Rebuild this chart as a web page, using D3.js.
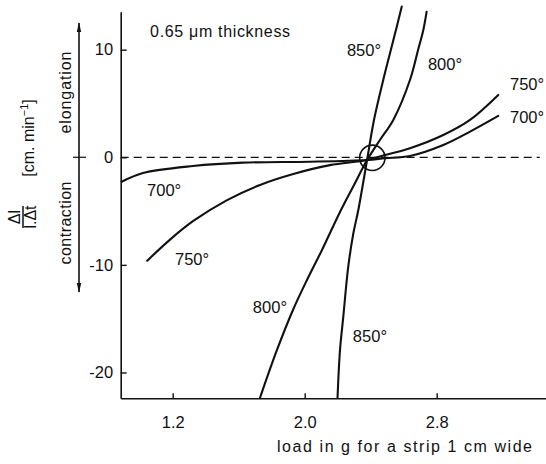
<!DOCTYPE html>
<html>
<head>
<meta charset="utf-8">
<script src="https://cdn.jsdelivr.net/npm/d3@7"></script>
<style>
  html, body { margin: 0; padding: 0; background: #fff; }
  svg { display: block; }
  text { font-family: "Liberation Sans", Arial, sans-serif; fill: #111; }
</style>
</head>
<body>
<svg id="chart" width="546" height="464"></svg>
<script>
// ---- data ----
const xTicks = [1.2, 2.0, 2.8];
const xTickLabels = ["1.2", "2.0", "2.8"];
const yTicks = [10, 0, -10, -20];
const yTickLabels = ["10", "0", "-10", "-20"];

const x700 = [0.891, 1.020, 1.323, 1.626, 2.032, 2.378, 2.487, 2.638, 2.840, 3.002, 3.173];
const y700 = [-2.27, -1.46, -0.81, -0.50, -0.41, -0.25, -0.09, 0.12, 1.14, 2.38, 3.84];

const x750 = [1.046, 1.184, 1.325, 1.527, 1.729, 1.931, 2.153, 2.378, 2.487, 2.638, 2.840, 3.002, 3.173];
const y750 = [-9.61, -7.65, -5.92, -4.00, -2.57, -1.55, -0.73, -0.25, 0.21, 0.84, 2.07, 3.47, 5.79];

const x800 = [1.729, 1.832, 1.929, 2.014, 2.105, 2.220, 2.299, 2.378, 2.456, 2.537, 2.638, 2.687, 2.719, 2.739];
const y800 = [-22.37, -17.91, -14.19, -11.40, -8.61, -4.90, -2.57, -0.25, 1.61, 3.47, 7.18, 9.97, 11.83, 13.53];

const x850 = [2.199, 2.214, 2.234, 2.264, 2.295, 2.325, 2.378, 2.420, 2.476, 2.517, 2.558, 2.588];
const y850 = [-22.37, -17.91, -14.81, -10.17, -7.06, -4.90, -0.25, 3.47, 7.18, 9.67, 12.14, 14.0];

const labelText = ["700°", "750°", "800°", "850°", "850°", "800°", "750°", "700°"];
const labelX = [1.045, 1.214, 1.686, 2.292, 2.256, 2.747, 3.244, 3.244];
const labelY = [-3.61, -10.0, -14.47, -17.17, 9.41, 8.11, 6.26, 3.19];

const circleCenter = [2.41, -0.05];
const circleRadius = 0.077; // in x-data units

const noteText = "0.65 μm thickness";
const xAxisTitle = "load in g for a strip 1 cm wide";

// ---- scales ----
const svg = d3.select("#chart");
const x = d3.scaleLinear().domain([0.885, 3.46]).range([120.7, 545.6]);
const y = d3.scaleLinear().domain([-22.4, 13.53]).range([398.3, 11.7]);

// ---- axes ----
const yAxis = d3.axisLeft(y).tickValues(yTicks)
  .tickFormat((d, i) => yTickLabels[i]).tickSizeInner(-6).tickSizeOuter(0).tickPadding(7.5);
const gy = svg.append("g").attr("transform", `translate(${x.range()[0]},0)`).call(yAxis);
gy.select(".domain").attr("stroke", "#111").attr("stroke-width", 1.6);
gy.selectAll(".tick line").attr("stroke", "#111").attr("stroke-width", 1.4);
gy.selectAll(".tick text").attr("font-size", 16.5).attr("fill", "#111")
  .attr("font-family", "Liberation Sans, Arial, sans-serif");

const xAxis = d3.axisBottom(x).tickValues(xTicks)
  .tickFormat((d, i) => xTickLabels[i]).tickSizeInner(-5).tickSizeOuter(0).tickPadding(17.5);
const gx = svg.append("g").attr("transform", `translate(0,${y.range()[0]})`).call(xAxis);
gx.select(".domain").attr("stroke", "#111").attr("stroke-width", 1.6);
gx.selectAll(".tick line").attr("stroke", "#111").attr("stroke-width", 1.4);
gx.selectAll(".tick text").attr("font-size", 16.5).attr("fill", "#111")
  .attr("font-family", "Liberation Sans, Arial, sans-serif");

// dashed zero line
svg.append("line")
  .attr("x1", x(0.885)).attr("x2", x(3.425))
  .attr("y1", y(0)).attr("y2", y(0))
  .attr("stroke", "#111").attr("stroke-width", 1.2)
  .attr("stroke-dasharray", "8,5");

// ---- curves ----
const line = d3.line().x(d => x(d[0])).y(d => y(d[1])).curve(d3.curveCatmullRom.alpha(0.5));
const series = [[x700, y700], [x750, y750], [x800, y800], [x850, y850]];
series.forEach(([xs, ys]) => {
  svg.append("path")
    .datum(xs.map((v, i) => [v, ys[i]]))
    .attr("d", line)
    .attr("fill", "none")
    .attr("stroke", "#111")
    .attr("stroke-width", 2.1)
    .attr("stroke-linecap", "round");
});

// circle at convergence point
svg.append("circle")
  .attr("cx", x(circleCenter[0])).attr("cy", y(circleCenter[1]))
  .attr("r", x(circleCenter[0] + circleRadius) - x(circleCenter[0]))
  .attr("fill", "none").attr("stroke", "#111").attr("stroke-width", 1.6);

// curve labels
labelText.forEach((t, i) => {
  svg.append("text")
    .attr("x", x(labelX[i])).attr("y", y(labelY[i]))
    .attr("font-size", 16.5).text(t);
});

// note
svg.append("text").attr("x", x(1.063)).attr("y", y(11.18))
  .attr("font-size", 16).attr("textLength", 140).attr("lengthAdjust", "spacing")
  .text(noteText);

// x axis title
svg.append("text").attr("x", 277).attr("y", 452)
  .attr("font-size", 16).attr("textLength", 255).attr("lengthAdjust", "spacing")
  .text(xAxisTitle);

// ---- y-axis annotations ----
svg.append("text").attr("transform", "translate(71,92.5) rotate(-90)")
  .attr("text-anchor", "middle").attr("font-size", 16)
  .attr("textLength", 82).attr("lengthAdjust", "spacing").text("elongation");
svg.append("text").attr("transform", "translate(71,223) rotate(-90)")
  .attr("text-anchor", "middle").attr("font-size", 16)
  .attr("textLength", 83).attr("lengthAdjust", "spacing").text("contraction");

const unit = svg.append("text").attr("transform", "translate(34,138) rotate(-90)")
  .attr("text-anchor", "middle").attr("font-size", 16);
unit.append("tspan").text("[cm. min");
unit.append("tspan").attr("font-size", 11).attr("dy", -6).text("−1");
unit.append("tspan").attr("dy", 6).text("]");

// fraction
const frac = svg.append("g").attr("transform", "translate(23,217) rotate(-90)");
frac.append("text").attr("text-anchor", "middle").attr("y", -3).attr("font-size", 16).text("Δl");
frac.append("line").attr("x1", -11).attr("x2", 11).attr("y1", 0).attr("y2", 0)
  .attr("stroke", "#111").attr("stroke-width", 1.5);
frac.append("text").attr("text-anchor", "middle").attr("y", 13).attr("font-size", 16).text("l.Δt");

// double-headed arrow with zero tick
const defs = svg.append("defs");
defs.append("marker").attr("id", "ah").attr("viewBox", "0 0 10 10")
  .attr("refX", 9).attr("refY", 5).attr("markerWidth", 10).attr("markerHeight", 10)
  .attr("markerUnits", "userSpaceOnUse").attr("orient", "auto-start-reverse")
  .append("path").attr("d", "M0,2.8 L10,5 L0,7.2 Z").attr("fill", "#111");
svg.append("line").attr("x1", 79).attr("x2", 79).attr("y1", 23).attr("y2", 292)
  .attr("stroke", "#111").attr("stroke-width", 1.6)
  .attr("marker-start", "url(#ah)").attr("marker-end", "url(#ah)");
svg.append("line").attr("x1", 73).attr("x2", 86).attr("y1", y(0)).attr("y2", y(0))
  .attr("stroke", "#111").attr("stroke-width", 1.2);
</script>
</body>
</html>
